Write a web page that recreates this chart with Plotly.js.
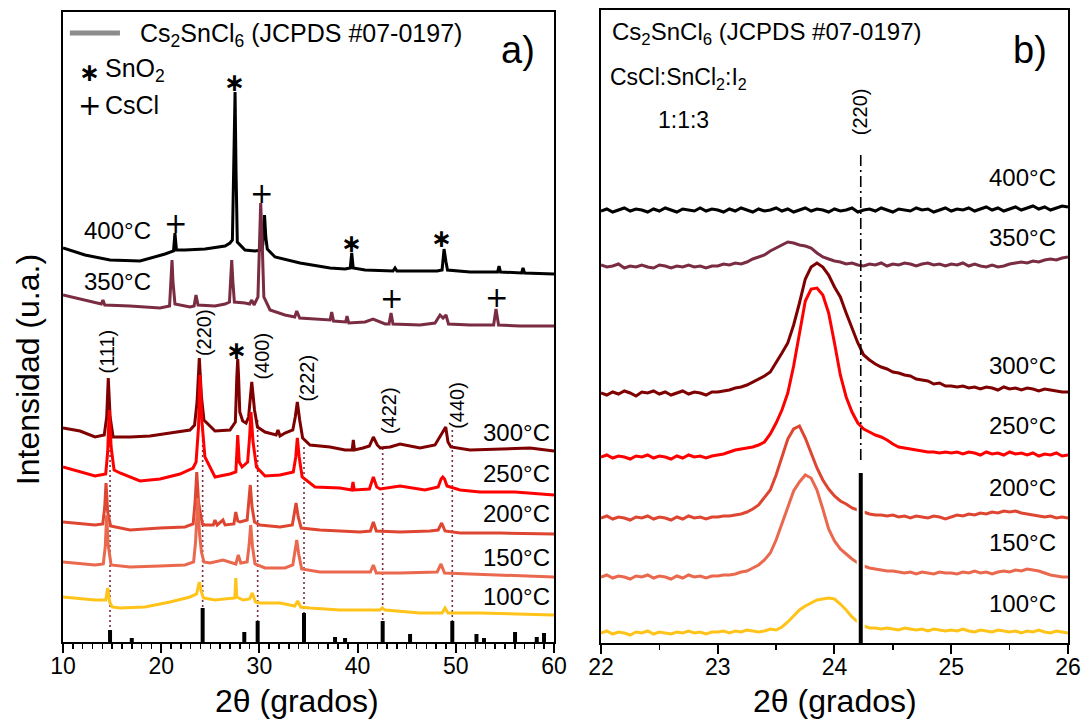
<!DOCTYPE html>
<html>
<head>
<meta charset="utf-8">
<script src="https://cdn.plot.ly/plotly-3.0.1.min.js"></script>
<style>html,body{margin:0;padding:0;background:#fff;}#chart{width:1091px;height:723px;}</style>
</head>
<body>
<div id="chart"></div>
<script>
// ---------- Panel a) : full XRD patterns (2θ in degrees, intensity in a.u., offset stacked) ----------
const x400 = [10, 12.24, 14.79, 17.84, 20.39, 21.1, 21.25, 21.4, 21.55, 22.42, 24.46, 26.5, 27.0, 27.25, 27.4, 27.52, 27.62, 27.75, 28.53, 29.55, 30.26, 30.35, 30.52, 30.65, 30.8, 31.59, 34.13, 37.19, 38.72, 39.25, 39.4, 39.55, 40.75, 43.6, 43.81, 44.0, 46.35, 48.09, 48.6, 48.8, 49.0, 49.15, 51.45, 54.25, 54.4, 54.55, 56.7, 56.84, 57.0, 60];
const y400 = [394, 387, 382, 381, 388, 390, 391, 409, 392, 392, 393, 396, 399, 402, 470, 550, 470, 400, 392, 391, 392, 398, 427, 405, 393, 385, 379, 374, 373, 374, 389, 374, 372, 371, 374, 371, 371, 371, 372, 393, 380, 372, 370, 370, 376, 370, 369, 374, 369, 368];

const x350 = [10, 12.24, 13.9, 14.07, 14.25, 16.82, 19.88, 20.85, 21.0, 21.1, 21.2, 21.4, 22.93, 23.35, 23.54, 23.75, 25.48, 26.5, 26.95, 27.08, 27.18, 27.3, 27.45, 28.53, 29.0, 29.22, 29.45, 29.85, 30.0, 30.13, 30.28, 30.45, 31.08, 32.6, 33.6, 33.8, 34.1, 36.17, 37.2, 37.36, 37.55, 38.78, 38.92, 39.1, 40.75, 41.57, 42.8, 43.2, 43.4, 43.6, 46.35, 47.88, 48.39, 48.7, 49.0, 49.25, 51.45, 53.85, 54.09, 54.35, 56.54, 60];
const y350 = [347, 342, 338, 342, 337, 336, 334, 336, 360, 382, 360, 338, 335, 336, 347, 337, 336, 338, 340, 365, 382, 360, 340, 339, 338, 342, 337, 345, 400, 439, 400, 345, 332, 327, 325, 331, 324, 323, 322, 330, 321, 320, 326, 319, 320, 323, 318, 318, 329, 318, 317, 319, 327, 324, 327, 318, 317, 317, 333, 317, 316, 316];

const x300 = [10, 11.73, 13.26, 14.2, 14.45, 14.61, 14.8, 15.1, 16.82, 18.86, 20.9, 22.93, 23.4, 23.65, 23.88, 24.1, 24.35, 25.48, 27.0, 27.55, 27.7, 27.79, 27.88, 28.0, 28.3, 28.64, 28.9, 29.22, 29.5, 29.8, 30.57, 31.7, 31.89, 32.1, 32.6, 33.4, 33.65, 33.86, 34.1, 34.4, 35.15, 37.19, 38.72, 39.45, 39.56, 39.68, 40.55, 41.2, 41.6, 42.0, 42.3, 43.3, 44.32, 46.35, 47.88, 48.39, 48.97, 49.2, 49.5, 51.45, 54.5, 57.56, 60];
const y300 = [214, 211, 205, 207, 225, 264, 225, 205, 205, 206, 209, 212, 217, 240, 284, 245, 222, 211, 212, 220, 265, 283, 265, 230, 221, 219, 225, 260, 232, 215, 210, 207, 212, 206, 209, 212, 225, 240, 222, 204, 197, 195, 192, 192, 202, 192, 194, 196, 205, 197, 194, 195, 198, 194, 197, 205, 215, 200, 195, 192, 193, 194, 191];

const x250 = [10, 13.26, 14.35, 14.55, 14.71, 14.9, 15.2, 15.8, 17.84, 19.88, 21.91, 23.24, 23.55, 23.8, 23.95, 24.15, 24.45, 25.48, 27.0, 27.6, 27.79, 27.95, 28.23, 28.8, 29.0, 29.14, 29.35, 29.7, 30.57, 32.1, 33.45, 33.7, 33.86, 34.05, 34.35, 35.66, 38.2, 39.4, 39.53, 39.66, 41.2, 41.6, 41.95, 42.3, 44.32, 46.86, 48.2, 48.5, 48.67, 48.85, 49.1, 50.43, 52.46, 56.03, 60];
const y250 = [175, 166, 168, 190, 232, 195, 172, 169, 161, 163, 168, 174, 180, 215, 267, 220, 185, 165, 168, 170, 207, 180, 175, 180, 205, 230, 200, 175, 166, 167, 170, 185, 204, 185, 165, 155, 154, 152, 160, 152, 153, 165, 155, 153, 156, 152, 155, 163, 165, 163, 156, 152, 150, 150, 147];

const x200 = [10, 13.26, 14.05, 14.25, 14.38, 14.55, 14.85, 16.82, 19.88, 22.42, 23.25, 23.45, 23.62, 23.8, 24.0, 24.2, 24.46, 25.3, 25.48, 25.7, 26.29, 26.5, 27.4, 27.59, 27.8, 28.02, 28.75, 28.92, 29.07, 29.25, 29.5, 30.06, 32.1, 33.35, 33.55, 33.73, 33.95, 34.25, 36.17, 40.24, 41.3, 41.6, 41.9, 44.32, 47.37, 48.2, 48.56, 48.9, 50.43, 54.5, 60];
const y200 = [120, 117, 118, 135, 159, 130, 116, 112, 114, 115, 118, 140, 170, 140, 128, 118, 117, 117, 122, 117, 122, 117, 118, 130, 121, 120, 122, 138, 157, 135, 120, 117, 115, 117, 127, 139, 125, 114, 112, 110, 111, 120, 111, 110, 111, 112, 119, 111, 109, 109, 108];

const x150 = [10, 13.26, 14.1, 14.3, 14.45, 14.6, 14.9, 16.82, 19.88, 22.42, 23.3, 23.5, 23.72, 23.9, 24.1, 24.35, 24.97, 26.29, 27.6, 27.85, 28.1, 28.75, 28.95, 29.11, 29.3, 29.55, 30.57, 32.6, 33.4, 33.6, 33.8, 34.0, 34.3, 36.17, 40.24, 41.3, 41.6, 41.9, 44.32, 48.1, 48.49, 48.85, 51.45, 60];
const y150 = [80, 77, 78, 95, 127, 97, 77, 75, 76, 77, 80, 100, 144, 108, 90, 80, 79, 82, 78, 87, 79, 80, 97, 117, 95, 78, 74, 74, 77, 88, 102, 88, 73, 70, 70, 70, 77, 69, 69, 70, 78, 69, 68, 65];

const x100 = [10, 13.26, 14.35, 14.55, 14.75, 15.0, 15.8, 18.35, 20.9, 22.93, 23.6, 23.88, 24.1, 24.3, 25.48, 27.0, 27.5, 27.59, 27.7, 28.33, 29.0, 29.28, 29.6, 30.06, 32.1, 33.6, 33.9, 34.2, 35.15, 38.2, 42.28, 42.5, 42.8, 46.35, 48.6, 48.9, 49.2, 52.46, 60];
const y100 = [45, 42, 42, 54, 40, 35, 34, 35, 40, 45, 48, 60, 50, 44, 42, 44, 44, 64, 45, 42, 43, 49, 40, 39, 39, 36, 41, 35, 34, 32, 32, 34, 32, 29, 29, 34, 29, 29, 27];

// JCPDS #07-0197 reference reflections (2θ, relative height)
const refX = [14.79, 17.0, 24.22, 28.46, 29.82, 34.54, 37.7, 38.72, 42.55, 45.34, 49.64, 52.1, 52.87, 56.03, 58.24, 58.98];
const refH = [12, 4, 34, 10, 21, 29, 5, 4, 21, 8, 21, 8, 4, 10, 5, 9];
// indexed reflections marked with dotted guides and their hkl labels
const hklIdx = [0, 2, 4, 5, 8, 10];
const hklLabels = ['(111)', '(220)', '(400)', '(222)', '(422)', '(440)'];
const guideTop = [212, 222, 222, 195, 194, 212];

// ---------- Panel b) : zoom on the (220) reflection ----------
const xr = [22,22.05,22.1,22.15,22.2,22.25,22.3,22.35,22.4,22.45,22.5,22.55,22.6,22.65,22.7,22.75,22.8,22.85,22.9,22.95,
            23,23.05,23.1,23.15,23.2,23.25,23.3,23.35,23.4,23.45,23.5,23.55,23.6,23.65,23.7,23.75,23.8,23.85,23.9,23.95,
            24,24.05,24.1,24.15,24.2,24.25,24.3,24.35,24.4,24.45,24.5,24.55,24.6,24.65,24.7,24.75,24.8,24.85,24.9,24.95,
            25,25.05,25.1,25.15,25.2,25.25,25.3,25.35,25.4,25.45,25.5,25.55,25.6,25.65,25.7,25.75,25.8,25.85,25.9,25.95,26];
const r400 = [432,434,431,433,435,432,434,433,431,434,432,435,433,431,434,433,432,435,432,434,
              433,431,434,432,435,433,431,434,432,433,435,432,434,431,433,435,432,434,433,431,
              434,432,433,435,431,433,434,432,435,433,431,434,433,432,435,433,434,431,433,435,
              432,434,433,435,432,434,436,433,435,432,434,436,433,435,437,434,436,433,435,437,436];
const r350 = [378,376,377,379,375,377,376,378,376,375,378,377,375,377,376,378,376,377,375,377,
              377,379,378,380,379,381,384,386,388,392,395,398,401,400,398,397,395,390,386,384,
              382,381,379,380,378,377,379,378,380,377,379,378,380,379,377,379,380,378,379,377,
              379,378,380,377,379,377,376,378,376,377,379,380,381,380,382,381,383,384,383,385,386];
const r300 = [250,248,251,249,252,250,247,251,250,252,249,251,248,250,252,249,251,250,248,251,
              251,252,253,255,256,258,261,264,267,271,280,290,300,318,340,364,376,380,376,368,
              356,346,330,314,300,288,283,279,276,274,271,270,268,267,264,263,262,259,260,257,
              257,256,257,255,256,254,256,255,253,256,254,255,253,255,254,252,254,253,252,251,251];
const r250 = [186,188,185,187,186,184,187,186,188,185,187,186,184,187,185,188,186,187,185,187,
              188,189,191,193,194,195,196,198,201,209,220,233,250,277,310,342,354,355,348,330,
              300,268,246,231,220,214,211,208,206,203,199,196,195,194,193,192,191,191,190,191,
              190,191,189,191,190,188,191,189,190,188,191,189,190,188,190,187,189,188,190,187,188];
const r200 = [125,127,124,126,125,123,126,125,127,124,126,125,123,126,124,127,125,126,124,126,
              126,127,127,128,129,131,134,138,145,153,168,186,204,214,217,205,190,175,163,154,
              147,142,139,135,133,131,129,128,128,127,128,126,127,125,127,126,125,127,126,124,
              126,128,127,129,128,130,129,131,130,132,131,132,130,129,128,127,126,127,125,126,125];
const r150 = [66,68,65,67,66,64,67,66,68,65,67,66,64,67,65,68,66,67,65,67,
              67,68,68,69,71,72,75,78,83,90,103,120,137,152,161,168,165,153,134,114,
              102,94,89,84,80,77,75,74,73,72,72,71,70,71,69,71,70,69,71,70,
              70,69,71,70,72,70,71,69,71,72,71,73,72,74,73,72,70,68,67,66,66];
const r100 = [10,12,9,11,10,8,11,10,12,9,11,10,9,11,10,12,10,11,9,11,
              11,12,10,12,11,13,12,11,12,14,13,16,21,27,33,37,40,43,44,45,
              44,39,33,26,21,17,15,15,14,15,14,13,15,14,13,14,12,14,13,12,
              13,12,14,12,11,13,12,11,13,12,11,12,10,12,11,13,11,10,12,11,10];
const refXb = [24.225];
const refHb = [170];
const guideB = [183, 488];

const temps = ['400°C','350°C','300°C','250°C','200°C','150°C','100°C'];

// ---------- styles ----------
const FONT = 'Liberation Sans, Arial, sans-serif';
const COL = {'400°C':'#000000','350°C':'#7A2C42','300°C':'#7F0000','250°C':'#FF0000',
             '200°C':'#DE4632','150°C':'#EA684E','100°C':'#FFC31A'};
const GUIDE_COL = '#7A2C42';

const seriesA = {'400°C':[x400,y400],'350°C':[x350,y350],'300°C':[x300,y300],'250°C':[x250,y250],
                 '200°C':[x200,y200],'150°C':[x150,y150],'100°C':[x100,y100]};
const seriesB = {'400°C':r400,'350°C':r350,'300°C':r300,'250°C':r250,'200°C':r200,'150°C':r150,'100°C':r100};

const traces = [];

// dotted hkl guides (panel a), from reference positions
const gx = [], gy = [];
hklIdx.forEach((k, i) => { gx.push(refX[k], refX[k], null); gy.push(guideTop[i], refH[k], null); });
traces.push({x: gx, y: gy, xaxis:'x', yaxis:'y', mode:'lines', hoverinfo:'skip',
  line:{color:GUIDE_COL, width:1.6, dash:'2px,3px'}});

// reference bars (panel a)
const bx = [], by = [];
refX.forEach((v, i) => { bx.push(v, v, null); by.push(0, refH[i], null); });
traces.push({x: bx, y: by, xaxis:'x', yaxis:'y', mode:'lines', hoverinfo:'skip',
  line:{color:'#000', width:4}});

temps.forEach(t => {
  traces.push({x: seriesA[t][0], y: seriesA[t][1], xaxis:'x', yaxis:'y', mode:'lines', name:t,
    line:{color:COL[t], width:3}});
});
temps.forEach(t => {
  traces.push({x: xr, y: seriesB[t], xaxis:'x2', yaxis:'y2', mode:'lines', name:t,
    line:{color:COL[t], width:3}});
});

// panel b reference: dash-dot guide + white halo + black bar
traces.push({x:[refXb[0], refXb[0]], y: guideB, xaxis:'x2', yaxis:'y2', mode:'lines', hoverinfo:'skip',
  line:{color:'#000', width:1.6, dash:'11px,4px,2px,4px'}});
const hb = [], hy = [];
refXb.forEach((v, i) => { hb.push(v, v, null); hy.push(0, refHb[i], null); });
traces.push({x: hb, y: hy, xaxis:'x2', yaxis:'y2', mode:'lines', hoverinfo:'skip', line:{color:'#fff', width:8}});
traces.push({x: hb, y: hy, xaxis:'x2', yaxis:'y2', mode:'lines', hoverinfo:'skip', line:{color:'#000', width:4}});

// ---------- annotations ----------
const ann = [];
function txt(xref, yref, x, y, text, size, opts) {
  ann.push(Object.assign({xref, yref, x, y, text, showarrow:false,
    font:{family:FONT, size, color:'#000'}, xanchor:'center', yanchor:'middle'}, opts || {}));
}
const STAR = '∗';
const starFont = {family:'DejaVu Sans, sans-serif', size:25, color:'#000', weight:'bold'};
const plusFont = {family:'DejaVu Sans, sans-serif', size:28, color:'#000'};
// panel a
txt('x','y', 17.6, 607, 'Cs<sub>2</sub>SnCl<sub>6</sub> (JCPDS #07-0197)', 25, {xanchor:'left'});
txt('x','y', 12.71, 570, STAR, 25, {font:starFont});
txt('x','y', 14.1, 572, 'SnO<sub>2</sub>', 25, {xanchor:'left'});
txt('x','y', 12.71, 537, '+', 28, {font:plusFont});
txt('x','y', 14.05, 537, 'CsCl', 25, {xanchor:'left'});
txt('x','y', 56.33, 592, 'a)', 38);
txt('x','y', 15.5, 412, '400°C', 24);
txt('x','y', 15.55, 361, '350°C', 24);
const tLblA = {'300°C':209,'250°C':168,'200°C':128,'150°C':84,'100°C':45};
Object.keys(tLblA).forEach(t => txt('x','y', 59.8, tLblA[t], t, 24, {xanchor:'right'}));
// phase markers
txt('x','y', 21.41, 419, '+', 28, {font:plusFont});
txt('x','y', 30.23, 449, '+', 28, {font:plusFont});
txt('x','y', 43.4, 344, '+', 28, {font:plusFont});
txt('x','y', 54.16, 345, '+', 28, {font:plusFont});
txt('x','y', 27.5, 560, STAR, 25, {font:starFont});
txt('x','y', 39.4, 399, STAR, 25, {font:starFont});
txt('x','y', 48.56, 404, STAR, 25, {font:starFont});
txt('x','y', 27.68, 292, STAR, 25, {font:starFont});
// hkl labels
const hklPos = [[14.53, 291], [24.36, 309], [30.22, 286], [34.8, 264], [43.2, 231], [50.1, 237]];
hklLabels.forEach((l, i) => txt('x','y', hklPos[i][0], hklPos[i][1], l, 20, {textangle:-90}));

// panel b
txt('x2','y2', 22.08, 610, 'Cs<sub>2</sub>SnCl<sub>6</sub> (JCPDS #07-0197)', 24, {xanchor:'left'});
txt('x2','y2', 22.06, 565, 'CsCl:SnCl<sub>2</sub>:I<sub>2</sub>', 23, {xanchor:'left'});
txt('x2','y2', 22.47, 523, '1:1:3', 23, {xanchor:'left'});
txt('x2','y2', 25.675, 593, 'b)', 38);
txt('x2','y2', 24.22, 531, '(220)', 20, {textangle:-90});
const tLblB = {'400°C':466,'350°C':406,'300°C':278,'250°C':218,'200°C':156,'150°C':101,'100°C':40};
Object.keys(tLblB).forEach(t => txt('x2','y2', 25.914, tLblB[t], t, 24, {xanchor:'right'}));

// axis titles
txt('paper','paper', -0.0348, 0.431, 'Intensidad (u.a.)', 32, {textangle:-90});
txt('paper','paper', 0.2328, -0.091, '2θ (grados)', 32);
txt('paper','paper', 0.768, -0.091, '2θ (grados)', 32);

const axisCommon = {showline:true, linewidth:2, linecolor:'#000', mirror:true, showgrid:false, zeroline:false};
const layout = {
  width:1091, height:723,
  margin:{l:63, r:23, t:10, b:80},
  paper_bgcolor:'#fff', plot_bgcolor:'#fff',
  showlegend:false, hovermode:false,
  font:{family:FONT, color:'#000'},
  shapes:[{type:'line', xref:'x', yref:'y', x0:10.7, x1:15.8, y0:609, y1:609,
           line:{color:'#8c8c8c', width:5}}],
  xaxis: Object.assign({}, axisCommon, {domain:[0,0.4886], range:[10,60], anchor:'y',
    ticks:'outside', ticklen:9, tickwidth:2, tickcolor:'#000', tick0:10, dtick:10, ticklabelstandoff:-7,
    minor:{dtick:1, ticks:'outside', ticklen:5, tickwidth:1.5, tickcolor:'#000'},
    tickfont:{family:FONT, size:23, color:'#000'}}),
  yaxis: Object.assign({}, axisCommon, {domain:[0.0016,0.9968], range:[0,630], anchor:'x',
    ticks:'', showticklabels:false}),
  xaxis2: Object.assign({}, axisCommon, {domain:[0.5353,1], range:[22,26], anchor:'y2',
    ticks:'outside', ticklen:9, tickwidth:2, tickcolor:'#000', tick0:22, dtick:1, ticklabelstandoff:-7,
    minor:{dtick:0.5, ticks:'outside', ticklen:5, tickwidth:1.5, tickcolor:'#000'},
    tickfont:{family:FONT, size:23, color:'#000'}}),
  yaxis2: Object.assign({}, axisCommon, {domain:[0,1], range:[0,633], anchor:'x2',
    ticks:'', showticklabels:false}),
  annotations: ann
};

Plotly.newPlot('chart', traces, layout, {displayModeBar:false, staticPlot:true});
</script>
</body>
</html>
